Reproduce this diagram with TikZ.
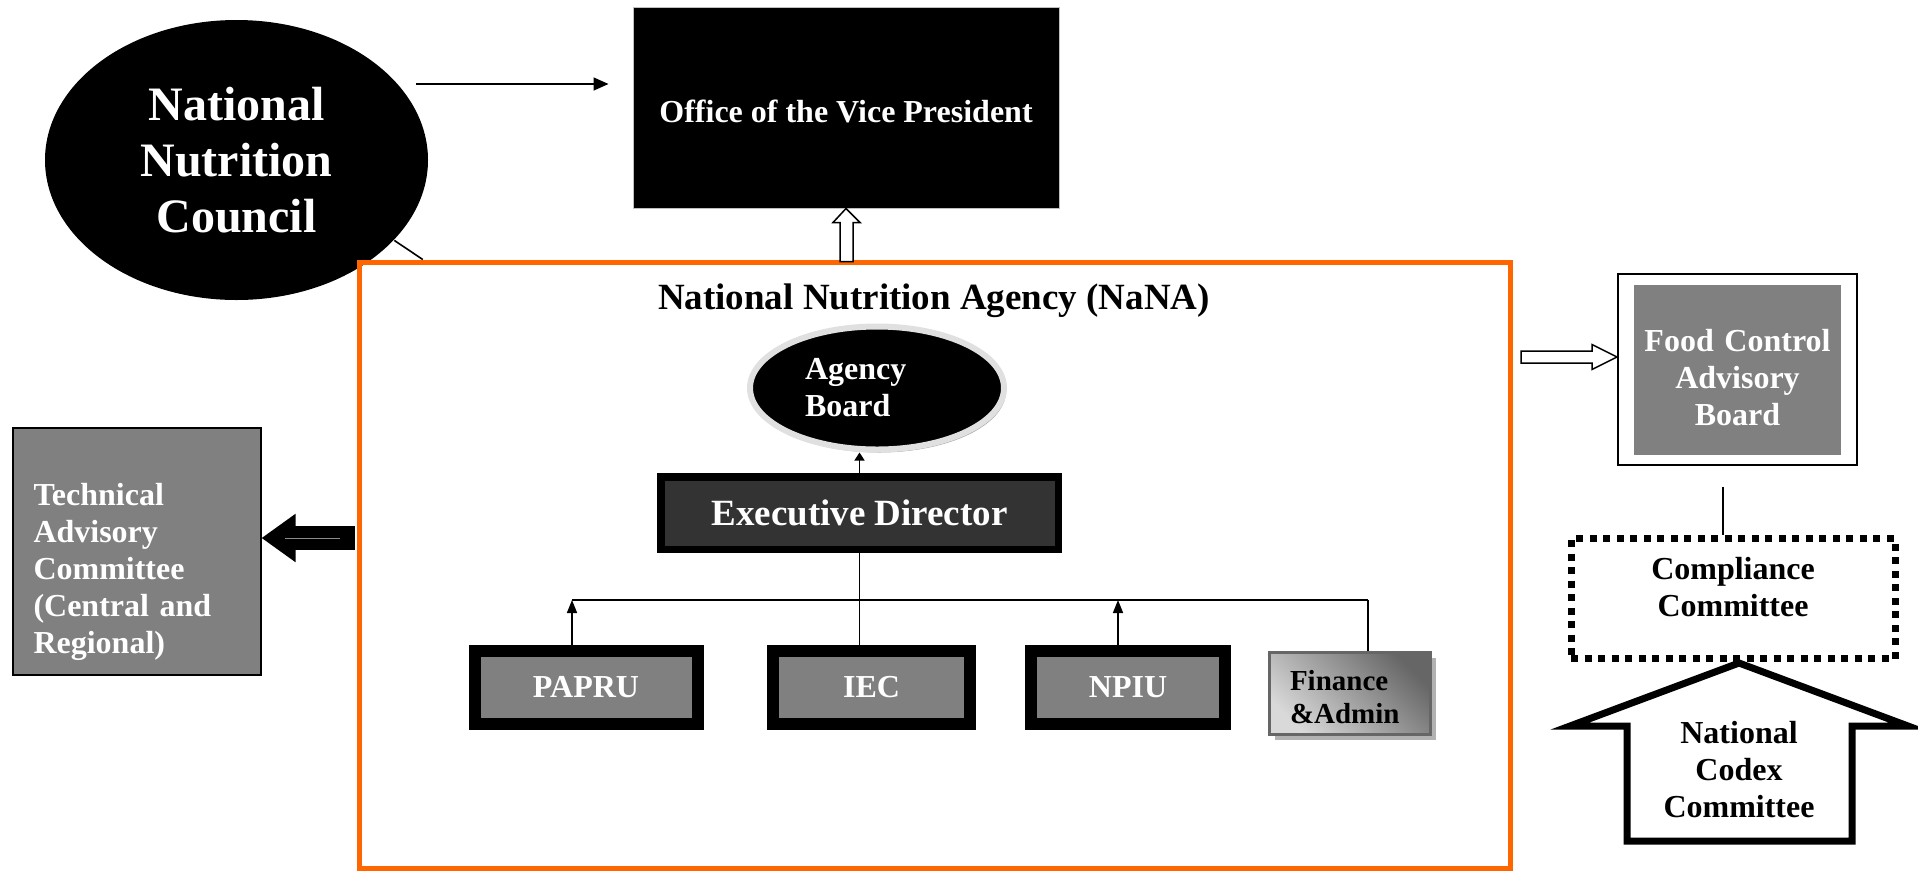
\documentclass[tikz,border=0pt]{standalone}
\usepackage{fontspec}
\setmainfont{Liberation Serif}
\usetikzlibrary{shapes.geometric,arrows.meta,calc,shadows}
\definecolor{nanaorange}{RGB}{255,102,0}

\begin{document}
\begin{tikzpicture}[x=1pt,y=-1pt,line width=1.6pt,font=\bfseries]
	\tikzset{bigtxt/.style={font=\fontsize{48}{56}\selectfont\bfseries},
		midtxt/.style={font=\fontsize{37}{42}\selectfont\bfseries},
		txt/.style={font=\fontsize{32}{37}\selectfont\bfseries},
		unitbox/.style={draw=black,line width=12pt,fill=gray,text=white,txt,minimum width=223pt,minimum height=73pt},
		hollow/.style={draw=black,fill=white,line width=1.5pt,line join=miter},
		tip/.style={-{Triangle[length=13pt,width=10pt]}}}
	\useasboundingbox (0,0) rectangle (1918,871);
	\node[ellipse,fill=black,minimum width=383pt,minimum height=280pt,inner sep=0pt,text=white,bigtxt,align=center] (nnc) at (236.5,160) {National\\Nutrition\\Council};
	\node[fill=black,draw=black!25,line width=1pt,minimum width=426pt,minimum height=201pt,text=white,txt,text height=30pt] (ovp) at (846,107.5) {Office of the Vice President};
	\node[draw=nanaorange,line width=5pt,minimum width=1151pt,minimum height=606pt] (nana) at (934.75,565) {};
	\node[midtxt] (nanatitle) at (934,301) {National Nutrition Agency (NaNA)};
	\coordinate (nncout) at (416,84);
	\draw[-{Triangle[length=15pt,width=13pt]}] (nncout) -- ([xshift=-24pt]ovp.west |- nncout);
	\draw (nnc.-27) -- ($(nana.north west)+(66,0)$);
	\draw[hollow] (ovp.south) -- ++(14,14) -- ++(-7,0) -- ++(0,39) -- ++(-13,0) -- ++(0,-39) -- ++(-7,0) -- cycle;
	\node[ellipse,fill=black,draw=black!12,line width=6pt,minimum width=254pt,minimum height=123pt,inner sep=0pt,text width=144pt,align=left,text=white,txt,drop shadow={shadow xshift=2pt,shadow yshift=-3pt,fill=black!35,opacity=1}] (ab) at (877,388) {Agency\\Board};
	\node[draw=black,line width=7.5pt,fill=black!80,minimum width=397.5pt,minimum height=72.5pt,text=white,midtxt] (ed) at (859.5,513) {Executive Director};
	\node[unitbox] (papru) at (586,687.5) {PAPRU};
	\node[unitbox,minimum width=197pt] (iec) at (871.5,687.5) {IEC};
	\node[unitbox,minimum width=194pt] (npiu) at (1128,687.5) {NPIU};
	\node[draw=black!60,line width=3pt,top color=black!60,bottom color=black!15,shading angle=-45,minimum width=161pt,minimum height=82pt,text width=120pt,align=left,font=\fontsize{29}{33}\selectfont\bfseries,text height=28pt,drop shadow={shadow xshift=5pt,shadow yshift=-5pt,fill=black!30,opacity=1}] (fin) at (1350,693.5) {Finance\\\&Admin};
	\draw[-{Triangle[length=8pt,width=10pt]}] (ed.north) -- (ed.north |- ab.south);
	\draw (ed.south) -- (ed.south |- iec.north);
	\draw ([xshift=-14pt]papru.north |- 0,600) -- ([xshift=18pt]fin.north |- 0,600);
	\draw[tip] ([xshift=-14pt]papru.north) -- ([xshift=-14pt]papru.north |- 0,600);
	\draw[tip] ([xshift=-10pt]npiu.north) -- ([xshift=-10pt]npiu.north |- 0,600);
	\draw ([xshift=18pt]fin.north) -- ([xshift=18pt]fin.north |- 0,600);
	\node[draw=black,line width=2pt,fill=gray,minimum width=248pt,minimum height=247pt] (tac) at (136.5,551) {};
	\node[txt,text=white,text width=206pt,align=left] (tactxt) at ([yshift=-21pt]tac.center) {Technical\\Advisory\\Committee\\(Central and\\Regional)};
	\draw[line width=24pt,-{Triangle[length=34pt,width=46pt]}] ([xshift=-2pt]nana.west |- 0,538) -- (tac.east |- 0,538);
	\draw[black!45,line width=1pt] (285,538) -- (340,538);
	\node[draw=black,line width=2pt,minimum width=239pt,minimum height=191pt] (fcab) at (1737.5,369.5) {};
	\node[fill=gray,minimum width=207pt,minimum height=170pt,text=white,txt,text width=200pt,align=center,text height=39pt] (fcabin) at (fcab.center) {Food Control\\Advisory\\Board};
	\draw[hollow] (fcab.west |- 0,357) -- ++(-25,-12.5) -- ++(0,6.5) -- ++(-71,0) -- ++(0,12) -- ++(71,0) -- ++(0,6.5) -- cycle;
	\node[draw=black,line width=7pt,dash pattern=on 7pt off 6.5pt,minimum width=324pt,minimum height=120pt,txt,text width=300pt,align=center,text depth=61pt] (cc) at (1733,598.5) {Compliance\\Committee};
	\coordinate (fcabgap) at (1723,487);
	\draw (fcabgap) -- (fcabgap |- cc.north);
	\draw[line width=7pt,line join=miter,fill=white] (1739,663) -- (1908,726) -- (1852,726) -- (1852,841) -- (1627,841) -- (1627,726) -- (1570,726) -- cycle;
	\node[txt,align=center] (ncc) at (1739,770) {National\\Codex\\Committee};
\end{tikzpicture}
\end{document}
